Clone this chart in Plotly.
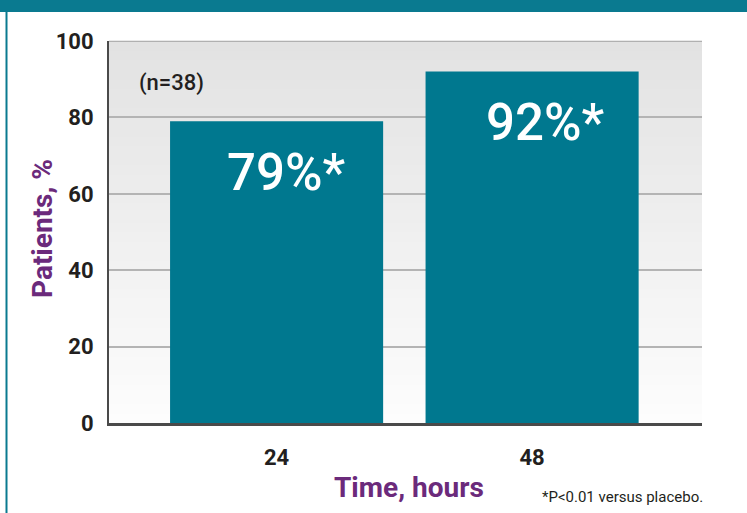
import plotly.graph_objects as go

# ---- data ----
categories = ["24", "48"]
values = [79, 92]
bar_labels = ["79%*", "92%*"]
y_ticks = [0, 20, 40, 60, 80, 100]
sample_note = "(n=38)"
footnote = "*P<0.01 versus placebo."
x_title = "Time, hours"
y_title = "Patients, %"

W, H = 747, 513
ML, MR, MT, MB = 109, 45, 41, 90
PW, PH = W - ML - MR, H - MT - MB

def px_x(p):
    return (p - ML) / PW

def px_y(p):
    return (H - MB - p) / PH

TEAL = "#00788f"
PURPLE = "#6b2a7b"
FONT = "Roboto, Liberation Sans, sans-serif"

fig = go.Figure()
fig.add_trace(go.Bar(
    x=[0, 1], y=values, width=0.834,
    marker=dict(color=TEAL, line=dict(width=0)),
    hoverinfo="skip",
))

shapes = []
# gradient plot background
n = 40
top = (0xe2, 0xe2, 0xe2)
bot = (0xfd, 0xfd, 0xfd)
for i in range(n):
    t = (i + 0.5) / n
    c = tuple(round(bot[k] + (top[k] - bot[k]) * t) for k in range(3))
    shapes.append(dict(type="rect", xref="x domain", yref="y domain",
                       x0=0, x1=1, y0=i / n, y1=(i + 1) / n + 0.002,
                       fillcolor="rgb(%d,%d,%d)" % c, line=dict(width=0),
                       layer="below"))
# top gridline at 100
shapes.append(dict(type="line", xref="x domain", yref="y",
                   x0=0, x1=1, y0=y_ticks[-1], y1=y_ticks[-1],
                   line=dict(color="#b0b0b0", width=2), layer="below"))
# header bar
shapes.append(dict(type="rect", xref="paper", yref="paper",
                   x0=px_x(0), x1=px_x(W), y0=px_y(12), y1=px_y(0),
                   fillcolor="#0a7a90", line=dict(width=0), layer="above"))
# left frame line
shapes.append(dict(type="line", xref="paper", yref="paper",
                   x0=px_x(6.5), x1=px_x(6.5), y0=px_y(12), y1=px_y(H),
                   line=dict(color="#0a7a90", width=2)))

annotations = []
for i, (v, lab) in enumerate(zip(values, bar_labels)):
    annotations.append(dict(x=i, y=v, xref="x", yref="y", text=lab,
                            showarrow=False, yanchor="middle", xanchor="center",
                            xshift=10 + 3 * i, yshift=-51,
                            font=dict(family=FONT, size=51, color="white",
                                      weight=500)))
annotations.append(dict(x=px_x(137), y=px_y(83), xref="paper", yref="paper",
                        text=sample_note, showarrow=False, xanchor="left",
                        yanchor="middle",
                        font=dict(family=FONT, size=22, color="#231f20",
                                  weight=500)))
annotations.append(dict(x=px_x(42), y=px_y(229), xref="paper", yref="paper",
                        text="<b>%s</b>" % y_title, showarrow=False, textangle=-90,
                        xanchor="center", yanchor="middle",
                        font=dict(family=FONT, size=28, color=PURPLE)))
annotations.append(dict(x=px_x(409), y=px_y(487), xref="paper", yref="paper",
                        text="<b>%s</b>" % x_title, showarrow=False,
                        xanchor="center", yanchor="middle",
                        font=dict(family=FONT, size=28, color=PURPLE)))
annotations.append(dict(x=px_x(540), y=px_y(497), xref="paper", yref="paper",
                        text=footnote, showarrow=False, xanchor="left",
                        yanchor="middle",
                        font=dict(family=FONT, size=15, color="#231f20")))

fig.update_layout(
    width=W, height=H,
    margin=dict(l=ML, r=MR, t=MT, b=MB, pad=0),
    paper_bgcolor="white", plot_bgcolor="rgba(0,0,0,0)",
    showlegend=False,
    shapes=shapes, annotations=annotations,
    xaxis=dict(range=[-0.656, 1.665], tickvals=[0, 1], ticktext=categories,
               showgrid=False, zeroline=False, showline=True,
               linecolor="#4a4a4a", linewidth=2.5, ticks="",
               ticklabelstandoff=13,
               tickfont=dict(family=FONT, size=22, color="#231f20", weight="bold"),
               fixedrange=True),
    yaxis=dict(range=[0, 100], tickvals=y_ticks,
               showgrid=True, gridcolor="#b4b4b4", gridwidth=1.5,
               zeroline=False, showline=True, linecolor="#4a4a4a", linewidth=2,
               ticks="", ticklabelstandoff=9,
               tickfont=dict(family=FONT, size=22, color="#231f20", weight="bold"),
               fixedrange=True),
)

fig.write_html("out.html", post_script="document.body.style.margin='0px';",
               config={"displayModeBar": False})
